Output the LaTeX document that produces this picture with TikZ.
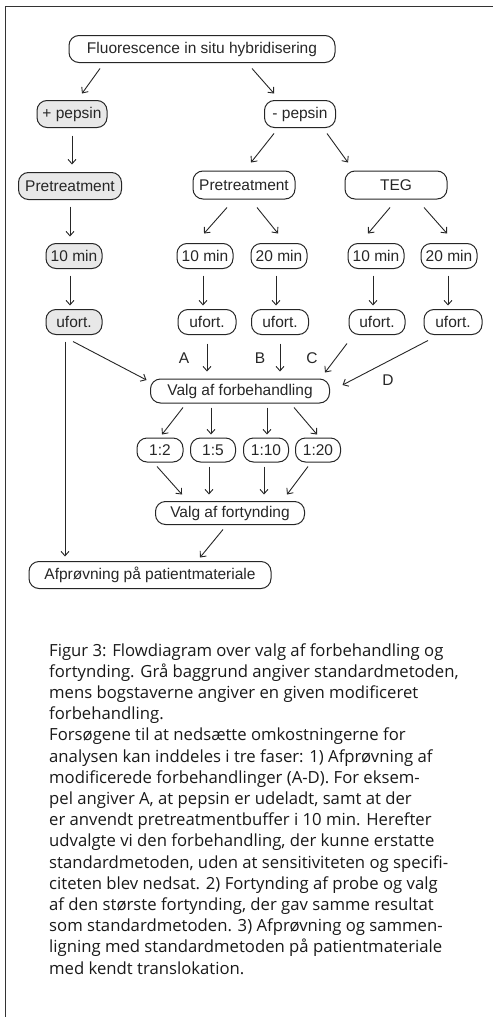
\documentclass[tikz,border=0pt]{standalone}
\usepackage{fontspec}
\setmainfont{Liberation Sans}
\newfontfamily\capfont{Open Sans}
\usetikzlibrary{arrows.meta}
\newcommand\myarrow[6]{\draw[arr] ([xshift=#2pt,yshift=#3pt]#1) -- ([xshift=#5pt,yshift=#6pt]#4);}
\begin{document}
\begin{tikzpicture}[x=1pt,y=-1pt,
  box/.style={draw=black!85,line width=1pt,rounded corners=10pt,inner sep=0pt,
    font=\fontsize{15.5}{18}\selectfont,text=black!85},
  grey/.style={fill=black!9},
  arr/.style={draw=black!85,line width=0.9pt,-{Straight Barb[length=4.5pt,width=8pt]}},
  lab/.style={font=\fontsize{15.5}{18}\selectfont,text=black!85,inner sep=0pt},
  capline/.style={anchor=base west,inner sep=0pt,font=\capfont\fontsize{16.7}{21}\selectfont,text=black!90}
]
\useasboundingbox (0,0) rectangle (493,1017);
\draw[line width=1.5pt,black!80] (5.5,1017) -- (5.5,6.5) -- (493,6.5);

% nodes
\node[box,minimum width=266pt,minimum height=27pt] (fish) at (202,49) {Fluorescence in situ hybridisering};
\node[box,grey,minimum width=70pt,minimum height=27pt] (pp) at (72,114) {+ pepsin};
\node[box,minimum width=71pt,minimum height=27pt] (mp) at (300,114) {- pepsin};
\node[box,grey,minimum width=103pt,minimum height=27pt] (pt1) at (70,186) {Pretreatment};
\node[box,minimum width=102pt,minimum height=28pt] (pt2) at (244,185) {Pretreatment};
\node[box,minimum width=102pt,minimum height=28pt] (teg) at (396,185) {TEG};

\node[box,grey,minimum width=56pt,minimum height=25pt] (m1) at (74,256) {10 min};
\node[box,minimum width=56pt,minimum height=25pt] (m2) at (205,256) {10 min};
\node[box,minimum width=56pt,minimum height=25pt] (m3) at (279,256) {20 min};
\node[box,minimum width=56pt,minimum height=25pt] (m4) at (376,256) {10 min};
\node[box,minimum width=56pt,minimum height=25pt] (m5) at (449,256) {20 min};

\node[box,grey,minimum width=56pt,minimum height=25pt] (u1) at (74,322) {ufort.};
\node[box,minimum width=58pt,minimum height=25pt] (u2) at (207,322) {ufort.};
\node[box,minimum width=57pt,minimum height=25pt] (u3) at (280,322) {ufort.};
\node[box,minimum width=56pt,minimum height=25pt] (u4) at (377,322) {ufort.};
\node[box,minimum width=58pt,minimum height=25pt] (u5) at (453,322) {ufort.};

\node[box,minimum width=179pt,minimum height=24pt] (valg1) at (240,391) {Valg af forbehandling};
\node[box,minimum width=46pt,minimum height=24pt] (r1) at (160,450) {1:2};
\node[box,minimum width=45pt,minimum height=24pt] (r2) at (213,450) {1:5};
\node[box,minimum width=45pt,minimum height=24pt] (r3) at (266,450) {1:10};
\node[box,minimum width=45pt,minimum height=24pt] (r4) at (318,450) {1:20};
\node[box,minimum width=149pt,minimum height=23pt] (valg2) at (230,513) {Valg af fortynding};
\node[box,minimum width=242pt,minimum height=27pt] (afp) at (150,575) {Afprøvning på patientmateriale};

\node[lab] (la) at (184,358) {A};
\node[lab] (lb) at (260,358) {B};
\node[lab] (lc) at (312,358) {C};
\node[lab] (ld) at (388,380) {D};

% arrows
\myarrow{fish.south}{-102}{-5.5}{pp.north}{10}{6.5}
\myarrow{fish.south}{50}{-5.5}{mp.north}{-26}{6.5}
\myarrow{pp.south}{0}{-7.5}{pt1.north}{2}{7.5}
\myarrow{mp.south}{-26}{-5.5}{pt2.north}{7}{8}
\myarrow{mp.south}{27}{-5.5}{teg.north}{-48}{8}
\myarrow{pt1.south}{0}{-6.5}{m1.north}{-4}{6.5}
\myarrow{pt2.south}{-17}{-8}{m2.north}{-1}{9.5}
\myarrow{pt2.south}{13}{-8}{m3.north}{-1}{9.5}
\myarrow{teg.south}{-6}{-8}{m4.north}{-8}{9.5}
\myarrow{teg.south}{28}{-8}{m5.north}{-2}{9.5}

\myarrow{m1.south}{-4}{-6.5}{u1.north}{-4}{3.5}
\myarrow{m2.south}{-2}{-6.5}{u2.north}{-4}{3.5}
\myarrow{m3.south}{-3}{-6.5}{u3.north}{-4}{3.5}
\myarrow{m4.south}{-3}{-6.5}{u4.north}{-4}{3.5}
\myarrow{m5.south}{-1}{-6.5}{u5.north}{-5}{3.5}

\myarrow{u2.south}{0}{-8.5}{valg1.north}{-33}{7}
\myarrow{u3.south}{0}{-8.5}{valg1.north}{40}{7}
\myarrow{u4.south}{-30}{-8.5}{valg1.north}{85}{6}
\myarrow{u5.south}{-25}{-5.5}{valg1.east}{12.5}{6}
\myarrow{u1.south}{-1}{-6.5}{valg1.west}{-3.5}{11}
\myarrow{u1.south}{-9}{-6.5}{afp.north}{-85}{4.5}

\myarrow{valg1.south}{-57}{-4}{r1.north}{2}{3}
\myarrow{valg1.south}{-29}{-4}{r2.north}{-2}{3}
\myarrow{valg1.south}{27}{-4}{r3.north}{1}{3}
\myarrow{valg1.south}{54}{-4}{r4.north}{-1}{3}

\myarrow{r1.south}{-3}{-4}{valg2.north}{-48}{6.5}
\myarrow{r2.south}{-4}{-4}{valg2.north}{-21}{6.5}
\myarrow{r3.south}{-2}{-4}{valg2.north}{34}{6.5}
\myarrow{r4.south}{-10}{-4}{valg2.north}{57}{6.5}

\myarrow{valg2.south}{-7}{-4.5}{afp.north}{50}{3.5}

% caption
\foreach \t [count=\i from 0] in {
 {Figur 3: Flowdiagram over valg af forbehandling og},
 {fortynding. Grå baggrund angiver standardmetoden,},
 {mens bogstaverne angiver en given modificeret},
 {forbehandling.},
 {Forsøgene til at nedsætte omkostningerne for},
 {analysen kan inddeles i tre faser: 1) Afprøvning af},
 {modificerede forbehandlinger (A-D). For eksem-},
 {pel angiver A, at pepsin er udeladt, samt at der},
 {er anvendt pretreatmentbuffer i 10 min. Herefter},
 {udvalgte vi den forbehandling, der kunne erstatte},
 {standardmetoden, uden at sensitiviteten og specifi-},
 {citeten blev nedsat. 2) Fortynding af probe og valg},
 {af den største fortynding, der gav samme resultat},
 {som standardmetoden. 3) Afprøvning og sammen-},
 {ligning med standardmetoden på patientmateriale},
 {med kendt translokation.}}
 \node[capline] (cap\i) at (49,656+21.2*\i) {\t};
\end{tikzpicture}
\end{document}
